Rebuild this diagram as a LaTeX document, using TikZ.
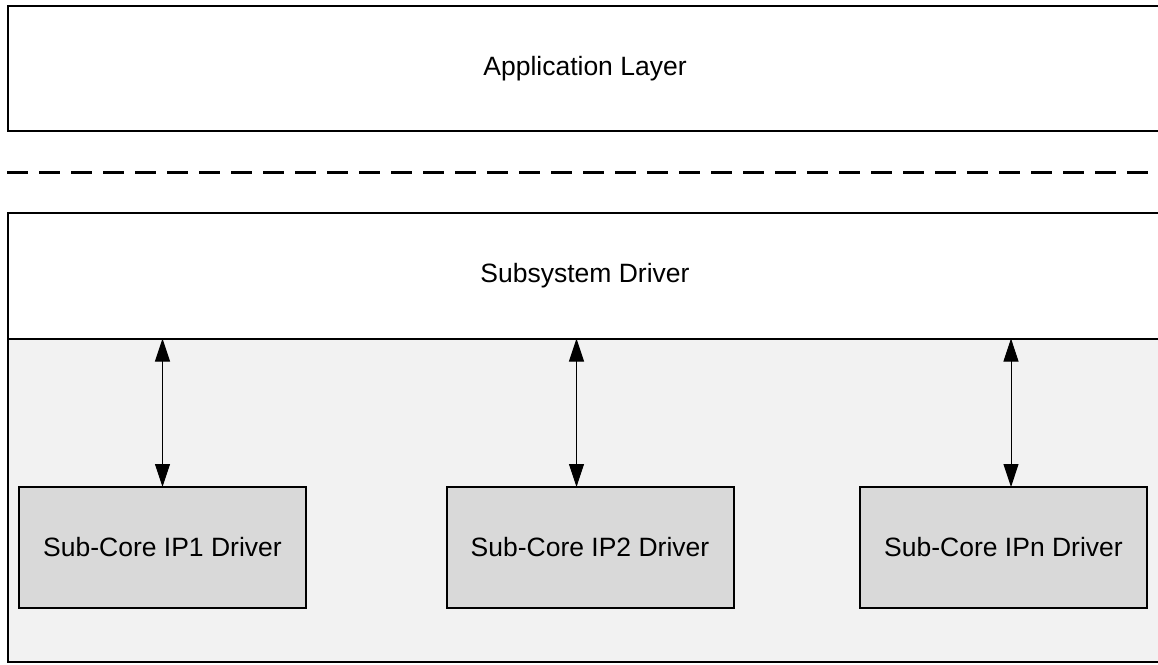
\documentclass[tikz,border=0pt]{standalone}
\usepackage{fontspec}
\setmainfont{Liberation Sans}
\usetikzlibrary{positioning, arrows.meta}

\definecolor{areagray}{HTML}{F2F2F2}
\definecolor{coregray}{HTML}{D9D9D9}

\begin{document}
\begin{tikzpicture}[x=1pt, y=-1pt, outer sep=0pt, inner sep=0pt,
    every node/.style={draw, rectangle, line width=2pt, font=\fontsize{26.5}{30}\selectfont, anchor=north west},
    corebox/.style={fill=coregray, minimum width=287pt, minimum height=121pt},
    linkarrow/.style={{Triangle[length=23pt,width=15pt]}-{Triangle[length=23pt,width=15pt]}, line width=1pt}]
    \useasboundingbox (0,0) rectangle (1158,664);
    \clip (0,0) rectangle (1158,664);

    \node (app) [fill=white, minimum width=1154pt, minimum height=125pt] at (8,6) {Application Layer};

    \coordinate (sepleft) at (7,172);
    \coordinate (sepright) at (1170,172);
    \draw [line width=3pt, dash pattern=on 21pt off 11pt] (sepleft) -- (sepright);

    \node (area) [fill=areagray, minimum width=1154pt, minimum height=323pt] at (8,338.5) {};
    \node (subsys) [fill=white, minimum width=1154pt, minimum height=125.5pt] at (8,213) {Subsystem Driver};

    \node (core1) [corebox] at (19,487) {Sub-Core IP1 Driver};
    \node (core2) [corebox] at (446.5,487) {Sub-Core IP2 Driver};
    \node (coren) [corebox] at (860,487) {Sub-Core IPn Driver};

    \draw [linkarrow] (core1.north) -- (core1.north |- subsys.south);
    \draw [linkarrow] ([xshift=-13.5pt]core2.north) -- ([xshift=-13.5pt]core2.north |- subsys.south);
    \draw [linkarrow] ([xshift=7.5pt]coren.north) -- ([xshift=7.5pt]coren.north |- subsys.south);
\end{tikzpicture}
\end{document}
